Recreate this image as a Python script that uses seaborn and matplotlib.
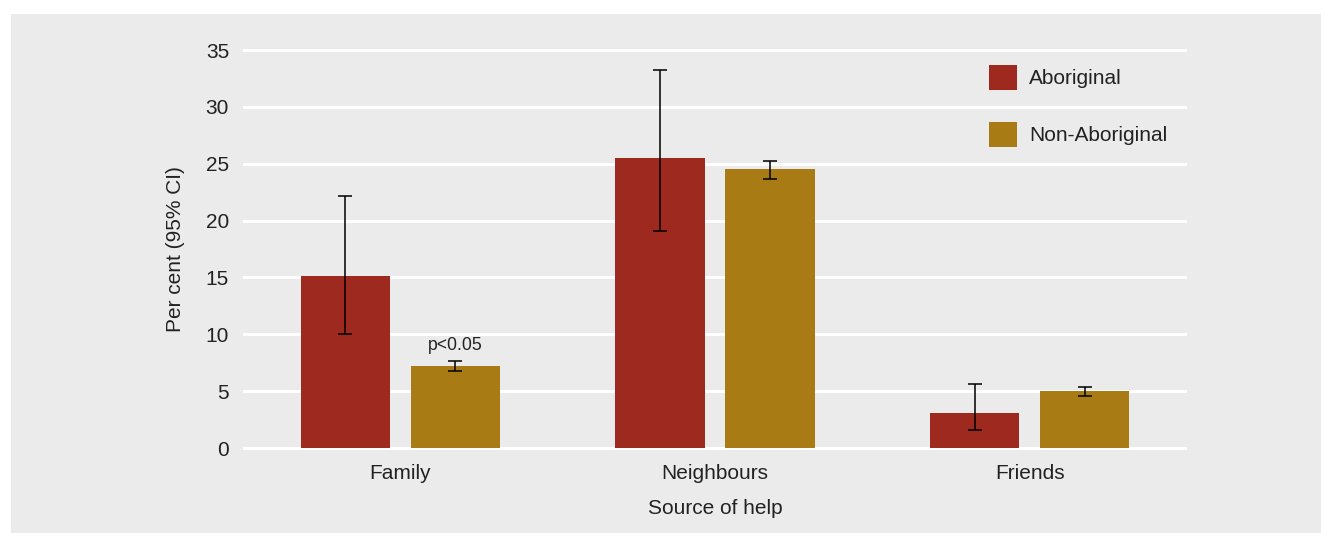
import matplotlib
matplotlib.use("Agg")
import matplotlib.pyplot as plt
import seaborn as sns
import pandas as pd
import numpy as np
from matplotlib.patches import Rectangle
from matplotlib.container import BarContainer

categories = ["Family", "Neighbours", "Friends"]
groups = ["Aboriginal", "Non-Aboriginal"]
aboriginal = [15.1, 25.5, 3.1]
aboriginal_lo = [10.0, 19.1, 1.6]
aboriginal_hi = [22.2, 33.2, 5.6]
non_aboriginal = [7.2, 24.5, 5.0]
non_aboriginal_lo = [6.8, 23.65, 4.6]
non_aboriginal_hi = [7.65, 25.2, 5.4]
yticks = [0, 5, 10, 15, 20, 25, 30, 35]
annotation = "p<0.05"

colors = {"Aboriginal": "#9E2A1F", "Non-Aboriginal": "#A97B14"}
bg = "#EBEBEB"
txt = "#222222"

sns.set_theme(style="white")
plt.rcParams['font.family'] = ['Liberation Sans', 'DejaVu Sans']

df = pd.DataFrame({
    "source": categories * 2,
    "group": [groups[0]] * 3 + [groups[1]] * 3,
    "value": aboriginal + non_aboriginal,
})

W, H = 1321, 533
fig = plt.figure(figsize=(W / 100, H / 100), dpi=100)
fig.patch.set_facecolor("white")
fig.patches.append(Rectangle((11 / W, 0), 1 - 11 / W, (H - 14) / H,
                             transform=fig.transFigure, facecolor=bg,
                             edgecolor="none", zorder=-10))

ax_top_px, ax_bot_px = 40, 458
ax = fig.add_axes([243 / W, (H - ax_bot_px) / H, (1187 - 243) / W,
                   (ax_bot_px - ax_top_px) / H])
ax.set_facecolor(bg)

sns.barplot(data=df, x="source", y="value", hue="group", order=categories,
            hue_order=groups, palette=colors, width=0.70, gap=0.19,
            errorbar=None, saturation=1, linewidth=0, ax=ax, zorder=3)

ppu = (448 - 50) / 35.0
ax.set_ylim(-(ax_bot_px - 448) / ppu, 35 + (50 - ax_top_px) / ppu)
ax.set_xlim(-0.5, 2.5)
ax.set_yticks(yticks)
ax.yaxis.grid(True, color="white", linewidth=2.2, zorder=0)
ax.xaxis.grid(False)
ax.set_axisbelow(True)
for s in ax.spines.values():
    s.set_visible(False)
ax.tick_params(axis="both", length=0, labelsize=15, colors=txt)
ax.tick_params(axis="y", pad=10)
ax.tick_params(axis="x", pad=4)

lows = [aboriginal_lo, non_aboriginal_lo]
highs = [aboriginal_hi, non_aboriginal_hi]
vals = [aboriginal, non_aboriginal]
bar_containers = [c for c in ax.containers if isinstance(c, BarContainer)]
centers = {}
for gi, cont in enumerate(bar_containers):
    xs = [p.get_x() + p.get_width() / 2 for p in cont.patches]
    centers[gi] = xs
    v = np.array(vals[gi])
    lo = np.array(lows[gi])
    hi = np.array(highs[gi])
    ax.errorbar(xs, v, yerr=[v - lo, hi - v], fmt="none", ecolor="black",
                elinewidth=1.1, capsize=5.3, capthick=1.1, zorder=5)

ax.text(centers[1][0], 8.97, annotation, ha="center", va="center",
        fontsize=12.7, color=txt, zorder=6)

ax.set_xlabel("Source of help", fontsize=15, color=txt, labelpad=12)
ax.set_ylabel("Per cent (95% CI)", fontsize=15, color=txt, labelpad=15)

leg = ax.legend(loc="upper left",
                bbox_to_anchor=((989 - 243) / (1187 - 243), 1 - (64.5 - ax_top_px) / (ax_bot_px - ax_top_px)),
                frameon=False, fontsize=15, handlelength=1.35, handleheight=1.53,
                labelspacing=1.5, handletextpad=0.58, borderaxespad=0, borderpad=0)
for t in leg.get_texts():
    t.set_color(txt)

fig.savefig("out.png", dpi=100, facecolor="white")
